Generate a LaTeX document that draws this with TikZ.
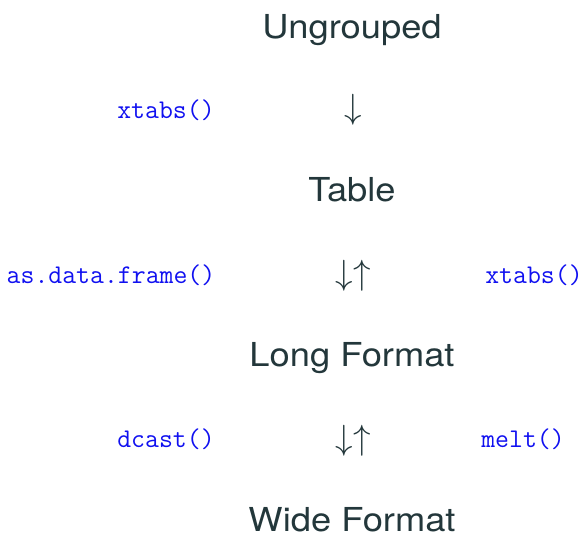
\documentclass[tikz,border=0pt]{standalone}
\usepackage{fontspec}
\setmainfont{TeX Gyre Heros}
\definecolor{fg}{HTML}{23373B}
\definecolor{code}{HTML}{1010F0}
\newcommand{\widetxt}[1]{\scalebox{1.1}[1]{#1}}
\newcommand{\bigarr}[1]{\scalebox{3.5}{$#1$}}
\tikzset{
  lbl/.style={inner sep=0pt, anchor=base, text=fg, font=\fontsize{33}{36}\selectfont},
  fn/.style={inner sep=0pt, anchor=base, text=code, font=\fontsize{27}{30}\selectfont\ttfamily},
  arr/.style={inner sep=0pt, text=fg}
}
\begin{document}
\begin{tikzpicture}[x=1pt,y=-1pt]
\useasboundingbox (0,0) rectangle (585,535);
\node[lbl] (ung) at (352,38.3) {\widetxt{Ungrouped}};
\node[arr] (a1) at (353,109.5) {\bigarr{\downarrow}};
\node[fn] (xt1) at (166,118.3) {xtabs()};
\node[lbl] (tab) at (352,201.7) {\widetxt{Table}};
\node[arr] (a2) at (353,276) {\bigarr{\downarrow\uparrow}};
\node[fn] (adf) at (111,283) {as.data.frame()};
\node[fn] (xt2) at (534,283) {xtabs()};
\node[lbl] (long) at (352,366.7) {\widetxt{Long Format}};
\node[arr] (a3) at (353,441) {\bigarr{\downarrow\uparrow}};
\node[fn] (dc) at (166,447.5) {dcast()};
\node[fn] (melt) at (523,447.5) {melt()};
\node[lbl] (wide) at (352,531.7) {\widetxt{Wide Format}};
\end{tikzpicture}
\end{document}
